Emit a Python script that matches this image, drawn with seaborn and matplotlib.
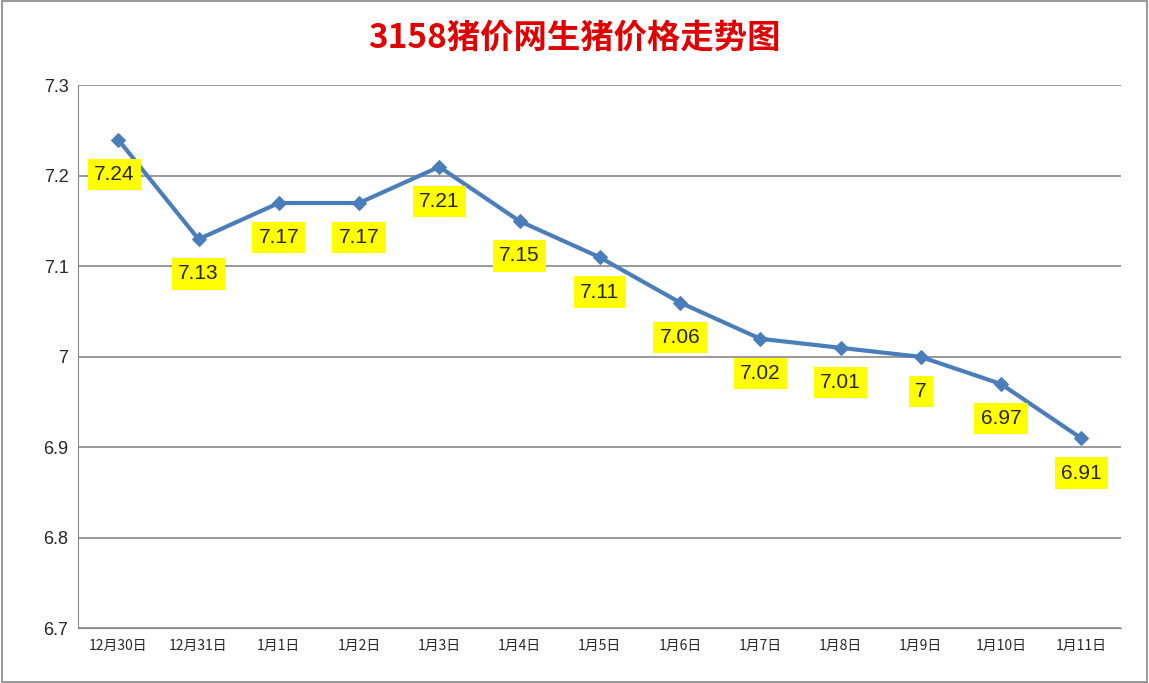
import matplotlib
matplotlib.use("Agg")
import matplotlib.pyplot as plt
import seaborn as sns
import pandas as pd

dates = ["12月30日","12月31日","1月1日","1月2日","1月3日","1月4日","1月5日","1月6日","1月7日","1月8日","1月9日","1月10日","1月11日"]
prices = [7.24,7.13,7.17,7.17,7.21,7.15,7.11,7.06,7.02,7.01,7.00,6.97,6.91]
labels = ["7.24","7.13","7.17","7.17","7.21","7.15","7.11","7.06","7.02","7.01","7","6.97","6.91"]
yticks = [6.7,6.8,6.9,7.0,7.1,7.2,7.3]
yticklabels = ["6.7","6.8","6.9","7","7.1","7.2","7.3"]

sns.set_style("white")
plt.rcParams['font.family'] = ['Noto Sans CJK SC', 'DejaVu Sans']

fig = plt.figure(figsize=(11.49, 6.83), dpi=100)
ax = fig.add_axes([0.068, 0.08, 0.908, 0.795])
df = pd.DataFrame({"x": range(len(dates)), "y": prices})
sns.lineplot(data=df, x="x", y="y", ax=ax, color="#4a7ebb", linewidth=3,
             marker="D", markersize=7, markeredgecolor="#4a7ebb")
ax.set_xlim(-0.5, len(dates)-0.5)
ax.set_ylim(6.7, 7.3)
ax.set_yticks(yticks)
ax.set_yticklabels(yticklabels, fontsize=13, family=['Liberation Sans'])
ax.set_xticks(range(len(dates)))
ax.set_xticklabels(dates, fontsize=10)
ax.set_xlabel(""); ax.set_ylabel("")
ax.yaxis.grid(True, color="#888888", linewidth=1.2)
for s in ["top","right"]:
    ax.spines[s].set_visible(False)
for s in ["left","bottom"]:
    ax.spines[s].set_color("#888888")
ax.tick_params(axis="x", length=4, color="#888888")
for i, (p, l) in enumerate(zip(prices, labels)):
    dx = -3 if i == 0 else 0
    ax.annotate(l, (i, p), xytext=(dx, -25), textcoords="offset points",
                ha="center", va="center", fontsize=15, family=['Liberation Sans'],
                bbox=dict(boxstyle="square,pad=0.3", fc="#ffff00", ec="none"))
fig.text(0.5, 0.945, "3158猪价网生猪价格走势图", ha="center", va="center",
         fontsize=24, fontweight="bold", color="#e00000")
fig.patches.append(plt.Rectangle((0.002, 0.002), 0.996, 0.996, transform=fig.transFigure,
                                 fill=False, ec="#888888", lw=1.2))
fig.savefig("out.png", dpi=100)
